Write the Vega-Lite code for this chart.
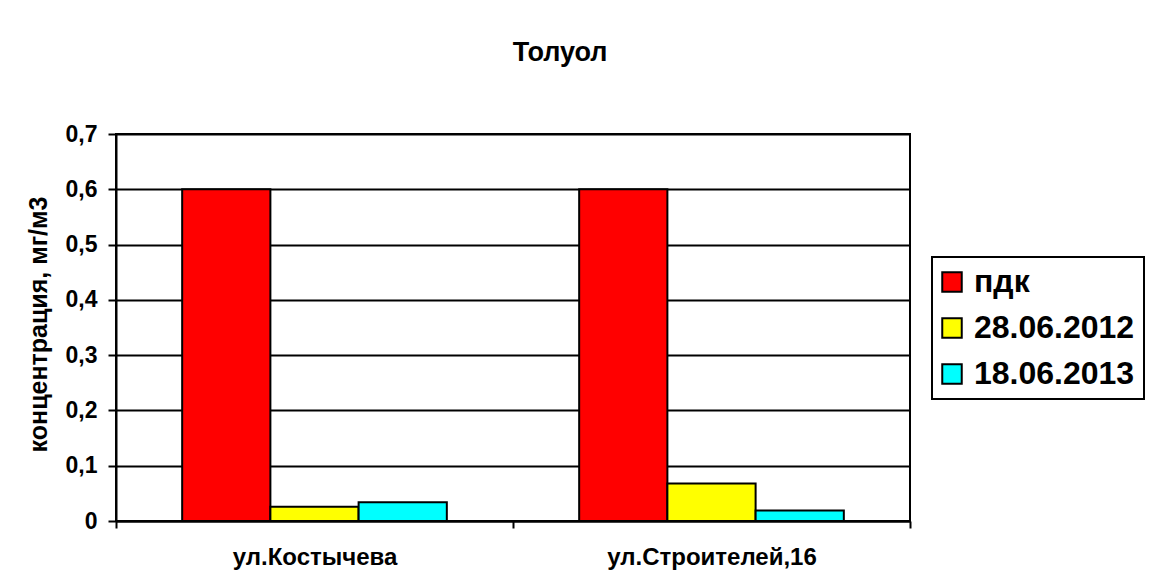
{
  "$schema": "https://vega.github.io/schema/vega-lite/v6.json",
  "autosize": {"type": "none"},
  "width": 794,
  "height": 387,
  "padding": {"left": 116, "top": 134, "right": 264, "bottom": 59},
  "background": "white",
  "title": {
    "text": "Толуол",
    "font": "Liberation Sans",
    "fontSize": 27,
    "fontWeight": "bold",
    "color": "black",
    "anchor": "middle",
    "dx": 47,
    "offset": 56
  },
  "data": {
    "values": [
      {"place": "ул.Костычева", "series": "пдк", "value": 0.6},
      {"place": "ул.Костычева", "series": "28.06.2012", "value": 0.026},
      {"place": "ул.Костычева", "series": "18.06.2013", "value": 0.034},
      {"place": "ул.Строителей,16", "series": "пдк", "value": 0.6},
      {"place": "ул.Строителей,16", "series": "28.06.2012", "value": 0.068},
      {"place": "ул.Строителей,16", "series": "18.06.2013", "value": 0.019}
    ]
  },
  "mark": {"type": "bar", "stroke": "black", "strokeWidth": 2, "opacity": 1},
  "encoding": {
    "x": {
      "field": "place",
      "type": "nominal",
      "sort": ["ул.Костычева", "ул.Строителей,16"],
      "scale": {"paddingInner": 0, "paddingOuter": 0},
      "axis": {
        "title": null,
        "labelAngle": 0,
        "labelFont": "Liberation Sans",
        "labelFontSize": 24,
        "labelFontWeight": "bold",
        "labelColor": "black",
        "labelPadding": 17,
        "labelLimit": 400,
        "tickBand": "extent",
        "tickSize": 7,
        "tickWidth": 2,
        "tickColor": "black",
        "domainColor": "black",
        "domainWidth": 2,
        "grid": false
      }
    },
    "xOffset": {
      "field": "series",
      "type": "nominal",
      "sort": ["пдк", "28.06.2012", "18.06.2013"],
      "scale": {"paddingInner": 0, "paddingOuter": 0.75}
    },
    "y": {
      "field": "value",
      "type": "quantitative",
      "scale": {"domain": [0, 0.7], "nice": false},
      "axis": {
        "title": "концентрация, мг/м3",
        "titleFont": "Liberation Sans",
        "titleFontSize": 25,
        "titleFontWeight": "bold",
        "titleColor": "black",
        "titleAngle": -90,
        "titleX": -78,
        "titleY": 190,
        "titleAlign": "center",
        "titleBaseline": "middle",
        "values": [0, 0.1, 0.2, 0.3, 0.4, 0.5, 0.6, 0.7],
        "labelExpr": "datum.value == 0 ? '0' : replace(format(datum.value, '.1f'), '.', ',')",
        "labelFont": "Liberation Sans",
        "labelFontSize": 23,
        "labelFontWeight": "bold",
        "labelColor": "black",
        "labelPadding": 11,
        "tickSize": 8,
        "tickWidth": 2,
        "tickColor": "black",
        "domainColor": "black",
        "domainWidth": 2,
        "grid": true,
        "gridColor": "black",
        "gridWidth": 2,
        "gridOpacity": 1
      }
    },
    "color": {
      "field": "series",
      "type": "nominal",
      "sort": ["пдк", "28.06.2012", "18.06.2013"],
      "scale": {
        "domain": ["пдк", "28.06.2012", "18.06.2013"],
        "range": ["#FF0000", "#FFFF00", "#00FFFF"]
      },
      "legend": {
        "title": null,
        "orient": "none",
        "legendX": 816,
        "legendY": 123,
        "labelFont": "Liberation Sans",
        "labelFontSize": 32,
        "labelFontWeight": "bold",
        "labelColor": "black",
        "labelOffset": 6,
        "labelLimit": 300,
        "symbolType": "square",
        "symbolSize": 380,
        "symbolOffset": -5,
        "symbolStrokeColor": "black",
        "symbolStrokeWidth": 2,
        "symbolOpacity": 1,
        "rowPadding": 14,
        "padding": 9,
        "strokeColor": "black",
        "fillColor": "white",
        "encode": {"legend": {"update": {"strokeWidth": {"value": 2}}}}
      }
    }
  },
  "config": {
    "view": {"stroke": "black", "strokeWidth": 2}
  }
}
